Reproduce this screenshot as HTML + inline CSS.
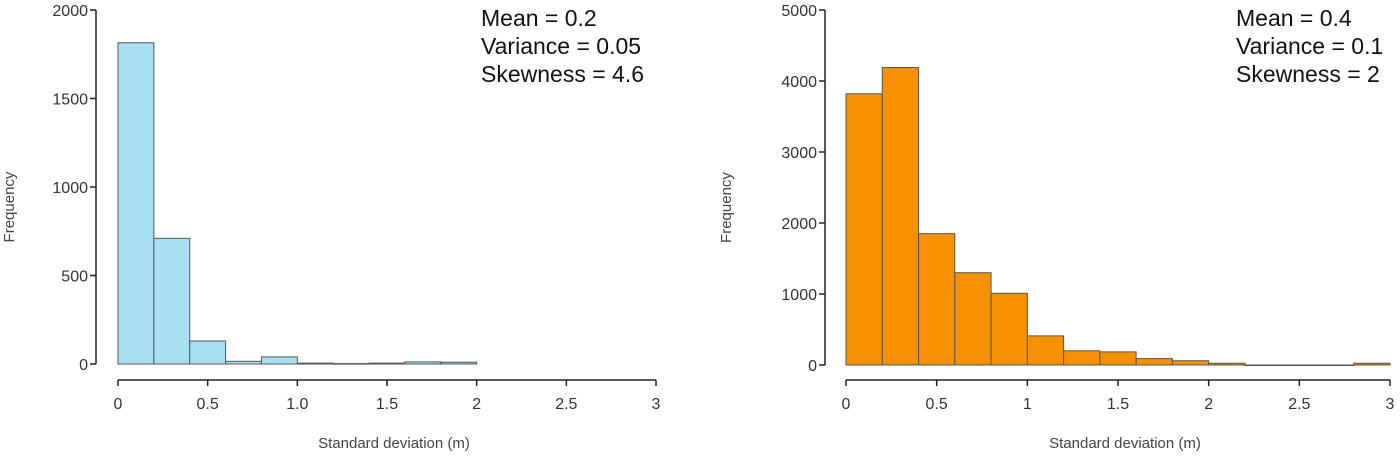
<!DOCTYPE html>
<html><head><meta charset="utf-8"><style>
body{margin:0;background:#fff}
svg text{font-family:"Liberation Sans",sans-serif}
</style></head><body>
<svg id="c" width="1400" height="460" xmlns="http://www.w3.org/2000/svg"></svg>
<script>
const binEdgesLeft=[0,0.2,0.4,0.6,0.8,1.0,1.2,1.4,1.6,1.8,2.0];
const countsLeft=[1815,710,130,15,40,5,2,5,12,10];
const yTicksLeft=[0,500,1000,1500,2000];
const xTicksLeft=[0,0.5,1.0,1.5,2,2.5,3];
const xTickLabelsLeft=["0","0.5","1.0","1.5","2","2.5","3"];
const statsLeft=["Mean = 0.2","Variance = 0.05","Skewness = 4.6"];
const binEdgesRight=[0,0.2,0.4,0.6,0.8,1.0,1.2,1.4,1.6,1.8,2.0,2.2,2.4,2.6,2.8,3.0];
const countsRight=[3820,4190,1850,1300,1010,410,200,185,90,60,25,0,0,0,25];
const yTicksRight=[0,1000,2000,3000,4000,5000];
const xTicksRight=[0,0.5,1,1.5,2,2.5,3];
const xTickLabelsRight=["0","0.5","1","1.5","2","2.5","3"];
const statsRight=["Mean = 0.4","Variance = 0.1","Skewness = 2"];

const svg=document.getElementById('c');
const NS="http://www.w3.org/2000/svg";
function mk(tag,attrs,parent){const e=document.createElementNS(NS,tag);for(const k in attrs)e.setAttribute(k,attrs[k]);(parent||svg).appendChild(e);return e;}

function panel(o){
  const g=mk('g',{});
  
  
  const sx=v=>o.x0+(v-0)/3*(o.x1-o.x0);
  const sy=v=>o.y0-(v/o.ymax)*(o.y0-o.yTop);
  // bars
  o.counts.forEach((c,i)=>{
    const x=sx(o.edges[i]),w=sx(o.edges[i+1])-x,y=sy(c);
    const r=mk('rect',{x:x,y:y,width:w,height:Math.max(o.y0-y,0.5),fill:o.fill,stroke:'#555','stroke-width':1},g);
    
    
  });
  // y axis
  const ya=mk('line',{x1:o.yx,x2:o.yx,y1:sy(o.yTicks[o.yTicks.length-1]),y2:sy(0),stroke:'#222','stroke-width':1.5},g);
  
  
  o.yTicks.forEach(t=>{
    mk('line',{x1:o.yx-6,x2:o.yx,y1:sy(t),y2:sy(t),stroke:'#222','stroke-width':1.5},g);
    const tx=mk('text',{x:o.yx-8,y:sy(t)+6,'text-anchor':'end','font-size':16,fill:'#333'},g);
    tx.textContent=t;
    
    
  });
  // x axis
  const xa=mk('line',{x1:sx(0),x2:sx(3),y1:380,y2:380,stroke:'#222','stroke-width':1.5},g);
  
  
  o.xTicks.forEach((t,i)=>{
    mk('line',{x1:sx(t),x2:sx(t),y1:380,y2:386,stroke:'#222','stroke-width':1.5},g);
    const tx=mk('text',{x:sx(t),y:409,'text-anchor':'middle','font-size':16,fill:'#333'},g);
    tx.textContent=o.xLabels[i];
    
    
  });
  const xt=mk('text',{x:(sx(0)+sx(3))/2+7,y:448,'text-anchor':'middle','font-size':15,fill:'#444'},g);
  xt.textContent='Standard deviation (m)';
  
  
  const yt=mk('text',{x:0,y:0,'text-anchor':'middle','font-size':15,fill:'#444',transform:`translate(${o.ytx},${(o.y0+o.yTop)/2+20}) rotate(-90)`},g);
  yt.textContent='Frequency';
  
  
  o.stats.forEach((s,i)=>{
    const tx=mk('text',{x:o.statsX,y:26+i*28,'font-size':23,fill:'#111'},g);
    tx.textContent=s;
    
    
  });
}
panel({name:'left-histogram',x0:118,x1:656,y0:364,yTop:10,ymax:2000,yx:96,ytx:14,fill:'#a6dff2',edges:binEdgesLeft,counts:countsLeft,yTicks:yTicksLeft,xTicks:xTicksLeft,xLabels:xTickLabelsLeft,stats:statsLeft,statsX:481});
panel({name:'right-histogram',x0:846,x1:1390,y0:365,yTop:10,ymax:5000,yx:825,ytx:731,fill:'#f59100',edges:binEdgesRight,counts:countsRight,yTicks:yTicksRight,xTicks:xTicksRight,xLabels:xTickLabelsRight,stats:statsRight,statsX:1236});
</script>
</body></html>
